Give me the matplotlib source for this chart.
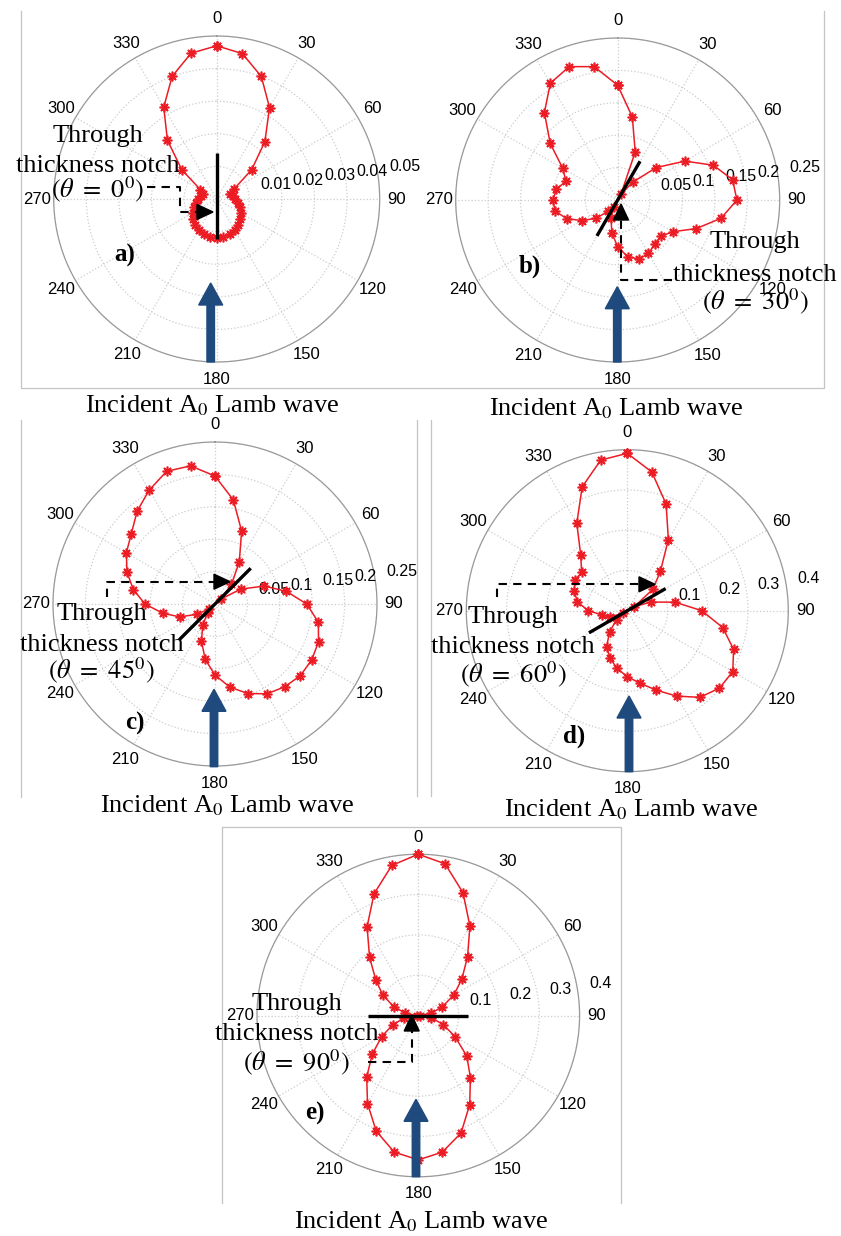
import numpy as np
import matplotlib
matplotlib.use('Agg')
import matplotlib.pyplot as plt
from matplotlib import transforms
from matplotlib.patches import FancyArrow, Polygon

# scattered A0 amplitude, sampled every 10 deg (0..350), one list per notch angle
angles = np.arange(0, 360, 10)

amp_0 = [0.047, 0.0453, 0.040, 0.0324, 0.023, 0.014, 0.0062, 0.0045, 0.005, 0.0057,
         0.0065, 0.0075, 0.0085, 0.0094, 0.0103, 0.011, 0.0115, 0.0119, 0.012, 0.0119,
         0.0115, 0.011, 0.0103, 0.0094, 0.0085, 0.0075, 0.0065, 0.0057, 0.005, 0.0045,
         0.0058, 0.014, 0.0235, 0.0325, 0.040, 0.0454]
amp_30 = [0.177, 0.130, 0.079, 0.010, 0.036, 0.078, 0.120, 0.157, 0.180, 0.184,
          0.162, 0.129, 0.098, 0.087, 0.089, 0.095, 0.097, 0.089, 0.072, 0.052,
          0.030, 0.012, 0.023, 0.044, 0.0635, 0.084, 0.098, 0.100, 0.096, 0.085,
          0.098, 0.136, 0.176, 0.208, 0.219, 0.209]
amp_45 = [0.1975, 0.163, 0.120, 0.075, 0.0395, 0.012, 0.046, 0.081, 0.112, 0.1415,
          0.162, 0.170, 0.1724, 0.172, 0.167, 0.160, 0.147, 0.130, 0.1096, 0.0868,
          0.061, 0.038, 0.018, 0.012, 0.0317, 0.058, 0.082, 0.108, 0.128, 0.1446,
          0.158, 0.1686, 0.187, 0.203, 0.218, 0.2164]
amp_60 = [0.391, 0.350, 0.282, 0.204, 0.128, 0.083, 0.020, 0.063, 0.121, 0.185,
          0.2406, 0.281, 0.3026, 0.299, 0.281, 0.245, 0.210, 0.183, 0.164, 0.1457,
          0.1255, 0.103, 0.068, 0.035, 0.012, 0.045, 0.063, 0.097, 0.126, 0.140,
          0.151, 0.148, 0.180, 0.251, 0.3275, 0.380]
amp_90 = [0.400, 0.382, 0.324, 0.256, 0.190, 0.141, 0.102, 0.063, 0.033, 0.004,
          0.033, 0.066, 0.1056, 0.157, 0.201, 0.255, 0.310, 0.344, 0.358, 0.344,
          0.305, 0.252, 0.199, 0.149, 0.105, 0.068, 0.035, 0.004, 0.033, 0.065,
          0.102, 0.1376, 0.188, 0.254, 0.321, 0.378]

rings_a = [0.01, 0.02, 0.03, 0.04, 0.05]
rings_bc = [0.05, 0.1, 0.15, 0.2, 0.25]
rings_de = [0.1, 0.2, 0.3, 0.4]
theta_labels = np.arange(0, 360, 30)

W, H = 841, 1236
RED = '#ec1c24'
BLUE = '#1f4a7d'
SERIF = 'Liberation Serif'

plt.rcParams['font.family'] = 'Liberation Sans'
plt.rcParams['mathtext.fontset'] = 'stix'

fig = plt.figure(figsize=(W / 100, H / 100), dpi=100)


def polar_panel(cx, cy, R, amps, rings, notch, notch_len):
    ax = fig.add_axes([(cx - R) / W, (H - cy - R) / H, 2 * R / W, 2 * R / H],
                      projection='polar')
    rmax = rings[-1]
    ax.set_theta_zero_location('N')
    ax.set_theta_direction(-1)
    ax.set_ylim(0, rmax)
    ax.set_xticks(np.deg2rad(theta_labels))
    ax.set_yticks(rings)
    ax.set_xticklabels([])
    ax.set_yticklabels([])
    ax.tick_params(length=0)
    ax.grid(True, color='#cccccc', linestyle=':', linewidth=0.9)
    ax.spines['polar'].set_color('#999999')
    ax.spines['polar'].set_linewidth(0.9)

    for deg in theta_labels:
        ax.text(np.deg2rad(deg), rmax * 1.105, str(deg), ha='center', va='center',
                fontsize=12)
    off = transforms.offset_copy(ax.transData, fig=fig, x=11, y=2, units='dots')
    for v in rings:
        ax.text(np.deg2rad(82), v, f'{v:g}', transform=off, ha='left', va='bottom',
                fontsize=11.5)

    th = np.deg2rad(np.r_[angles, angles[0]])
    r = np.r_[amps, amps[0]]
    ax.plot(th, r, color=RED, lw=1.1, marker=(8, 2, 0), ms=7, mew=1.2,
            clip_on=False, zorder=3)

    ax.plot(np.deg2rad([notch, notch, notch + 180]),
            [notch_len[0], 0, notch_len[1]], color='k', lw=2.4,
            solid_capstyle='butt', zorder=4)
    return ax


polar_panel(216.7, 199, 163, amp_0, rings_a, 0, (0.014, 0.0123))
polar_panel(617.7, 200, 162, amp_30, rings_bc, 30, (0.069, 0.064))
polar_panel(215, 604, 162, amp_45, rings_bc, 45, (0.078, 0.078))
polar_panel(627.3, 610.7, 161, amp_60, rings_de, 60, (0.11, 0.11))
polar_panel(418.3, 1015.5, 161.3, amp_90, rings_de, 90, (0.124, 0.124))

# overlay in pixel coordinates for annotations and frames
ov = fig.add_axes([0, 0, 1, 1])
ov.set_xlim(0, W)
ov.set_ylim(H, 0)
ov.axis('off')

frame_kw = dict(color='#c4c4c4', lw=0.9)
ov.plot([21, 21, 824, 824], [11, 388, 388, 11], **frame_kw)
ov.plot([21, 21], [420, 797], **frame_kw)
ov.plot([417.3, 417.3], [420, 796], **frame_kw)
ov.plot([431, 431], [420, 796], **frame_kw)
ov.plot([222, 222, 621, 621], [1203, 827, 827, 1203], **frame_kw)


def head(tip, direction, length=16, half=7.5):
    d = np.asarray(direction, float)
    d /= np.hypot(*d)
    n = np.array([-d[1], d[0]])
    tip = np.asarray(tip, float)
    base = tip - d * length
    ov.add_patch(Polygon([tip, base + n * half, base - n * half],
                         closed=True, color='k', zorder=5))
    return base


panels = [
    dict(tag='a)', tag_xy=(125, 255), tx=98, bl=(141.7, 171.7, 197.5), ang='0',
         path=[(147, 187), (180, 187), (180, 212), (213, 212)], hd=(1, 0),
         bx=210.7, by=(362, 283), cap=(211.7, 412)),
    dict(tag='b)', tag_xy=(530, 266.7), tx=755, bl=(248.3, 281, 309), ang='30',
         path=[(672, 280), (621, 280), (621, 204)], hd=(0, -1),
         bx=617.3, by=(362, 286.7), cap=(615.8, 415)),
    dict(tag='c)', tag_xy=(135, 723.3), tx=101.7, bl=(620, 650.7, 678.5), ang='45',
         path=[(106.7, 597), (106.7, 581.7), (230, 581.7)], hd=(1, 0),
         bx=214, by=(766.7, 689.3), cap=(226.7, 812.7)),
    dict(tag='d)', tag_xy=(574, 736.7), tx=513.3, bl=(622.7, 653.3, 682), ang='60',
         path=[(497.3, 597), (497.3, 584.3), (655, 584.3)], hd=(1, 0),
         bx=629, by=(771.7, 696), cap=(630.8, 816.7)),
    dict(tag='e)', tag_xy=(315, 1113.3), tx=296.7, bl=(1010, 1040, 1070.5), ang='90',
         path=[(368.3, 1061.7), (411.7, 1061.7), (411.7, 1015)], hd=(0, -1),
         bx=416, by=(1176.7, 1099.3), cap=(420.8, 1228.3)),
]

for p in panels:
    ov.text(*p['tag_xy'], p['tag'], family=SERIF, fontsize=18, fontweight='bold',
            ha='center', va='center')
    lines = ['Through', 'thickness notch',
             r'$(\theta\ =\ \mathit{' + p['ang'] + r'}^{\mathit{0}})$']
    for txt, b in zip(lines, p['bl']):
        ov.text(p['tx'], b, txt, family=SERIF, fontsize=19, ha='center',
                va='baseline', zorder=6)
    pts = np.array(p['path'], float)
    base = head(pts[-1], p['hd'])
    pts[-1] = base
    ov.plot(pts[:, 0], pts[:, 1], color='k', lw=1.5, dashes=(4, 3), zorder=5)
    y0, y1 = p['by']
    ov.add_patch(FancyArrow(p['bx'], y0, 0, y1 - y0, width=7.5, head_width=24,
                            head_length=22, length_includes_head=True,
                            color=BLUE, zorder=5))
    ov.text(*p['cap'], r'Incident A$_0$ Lamb wave', family=SERIF, fontsize=19,
            ha='center', va='baseline')

fig.savefig('out.png', dpi=100)
